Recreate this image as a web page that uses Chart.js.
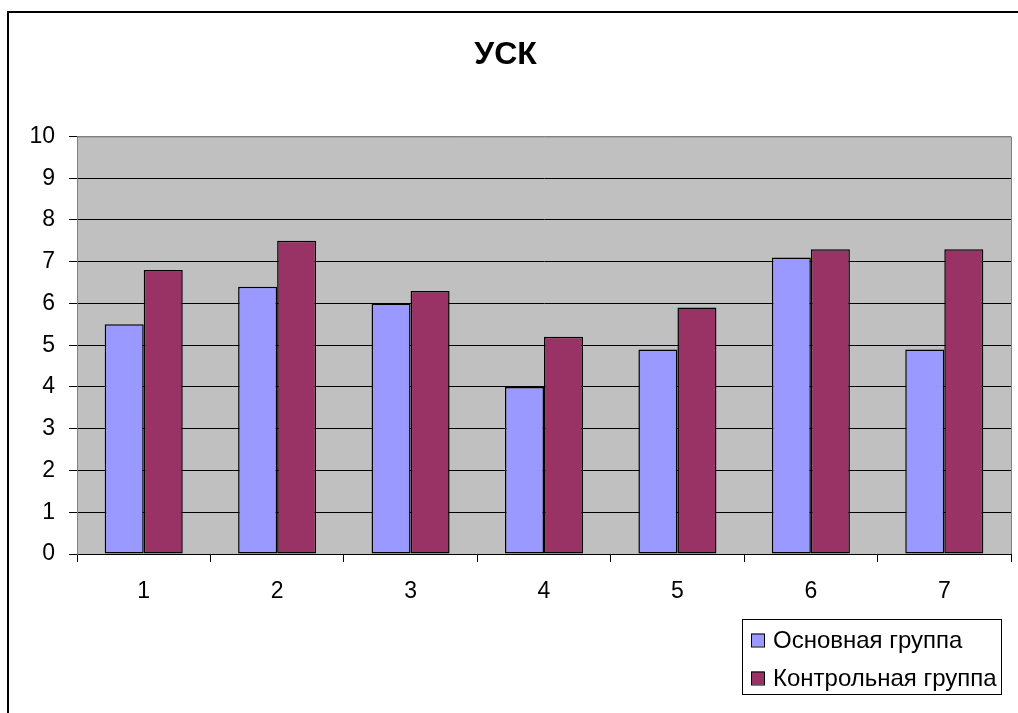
<!DOCTYPE html>
<html>
<head>
<meta charset="utf-8">
<script src="https://cdn.jsdelivr.net/npm/chart.js@4"></script>
<style>
  html, body { margin: 0; padding: 0; background: #fff; }
  #wrap { width: 1018px; height: 713px; position: relative; }
</style>
</head>
<body>
<div id="wrap"><canvas id="uskChart" width="1018" height="713"></canvas></div>
<script>
const categories = ['1', '2', '3', '4', '5', '6', '7'];
const mainGroup = [5.5, 6.4, 6.0, 4.0, 4.9, 7.1, 4.9];
const controlGroup = [6.8, 7.5, 6.3, 5.2, 5.9, 7.3, 7.3];
const seriesNames = ['Основная группа', 'Контрольная группа'];
const yTicks = [0, 1, 2, 3, 4, 5, 6, 7, 8, 9, 10];

const FONT = 'Arial, "Liberation Sans", sans-serif';

// grey plot area, frame lines and the boxed legend
const excelLook = {
  id: 'excelLook',
  beforeDraw(chart) {
    const a = chart.chartArea, c = chart.ctx;
    c.save();
    c.fillStyle = '#C0C0C0';
    c.fillRect(a.left, a.top, a.right - a.left, a.bottom - a.top);
    c.restore();
  },
  afterDraw(chart) {
    const a = chart.chartArea, c = chart.ctx;
    c.save();
    // plot border (top / right)
    c.strokeStyle = '#808080';
    c.lineWidth = 1;
    c.beginPath();
    c.moveTo(a.left, a.top + 0.5);
    c.lineTo(a.right + 0.5, a.top + 0.5);
    c.lineTo(a.right + 0.5, a.bottom);
    c.stroke();
    // outer frame, only left and top visible
    c.strokeStyle = '#000';
    c.lineWidth = 2;
    c.beginPath();
    c.moveTo(8, 713);
    c.lineTo(8, 12);
    c.lineTo(1018, 12);
    c.stroke();
    // legend
    const lx = 742, ly = 619, lw = 259, lh = 75;
    c.fillStyle = '#fff';
    c.fillRect(lx, ly, lw, lh);
    c.lineWidth = 1;
    c.strokeStyle = '#000';
    c.strokeRect(lx + 0.5, ly + 0.5, lw, lh);
    c.font = '24px ' + FONT;
    c.textBaseline = 'middle';
    const rows = [640, 678];
    chart.data.datasets.forEach((ds, i) => {
      const cy = rows[i];
      c.fillStyle = ds.backgroundColor;
      c.fillRect(751, cy - 6.5, 13, 13);
      c.strokeRect(751.5, cy - 6, 13, 13);
      c.fillStyle = '#000';
      c.fillText(ds.label, 773, cy + 1);
    });
    c.restore();
  }
};

new Chart(document.getElementById('uskChart'), {
  type: 'bar',
  data: {
    labels: categories,
    datasets: [{
      label: seriesNames[0],
      data: mainGroup,
      backgroundColor: '#9999FF',
      borderColor: '#000',
      borderWidth: 1.5,
      borderSkipped: false
    }, {
      label: seriesNames[1],
      data: controlGroup,
      backgroundColor: '#993366',
      borderColor: '#000',
      borderWidth: 1.5,
      borderSkipped: false
    }]
  },
  options: {
    responsive: false,
    animation: false,
    devicePixelRatio: 1,
    layout: { padding: { left: 0, right: 7, top: 0, bottom: 0 } },
    datasets: { bar: { categoryPercentage: 0.585, barPercentage: 1 } },
    plugins: {
      legend: { display: false },
      tooltip: { enabled: false },
      title: {
        display: true,
        text: 'УСК',
        color: '#000',
        font: { family: FONT, size: 32, weight: 'bold' },
        padding: { top: 36, bottom: 62 }
      }
    },
    scales: {
      x: {
        afterFit(s) { s.height = 159; },
        grid: { drawOnChartArea: false, color: '#000', tickLength: 8 },
        border: { color: '#000' },
        ticks: { color: '#000', font: { family: FONT, size: 23 }, padding: 16 }
      },
      y: {
        min: 0,
        max: 10,
        afterFit(s) { s.width = 77; },
        afterBuildTicks(s) { s.ticks = yTicks.map(v => ({ value: v })); },
        grid: {
          color: ctx => (ctx.tick && ctx.tick.value === 10 ? '#808080' : '#000'),
          tickColor: '#000',
          tickLength: 8
        },
        border: { color: '#808080' },
        ticks: { color: '#000', font: { family: FONT, size: 23 }, padding: 14 }
      }
    }
  },
  plugins: [excelLook]
});
</script>
</body>
</html>
